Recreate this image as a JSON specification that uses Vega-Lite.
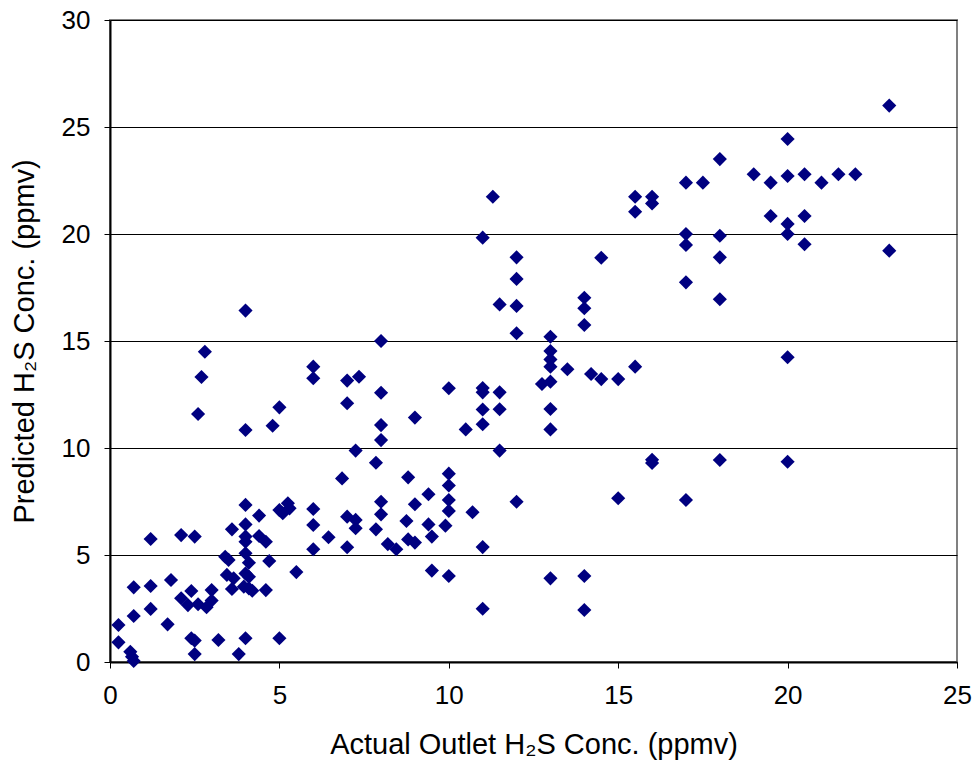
{
  "$schema": "https://vega.github.io/schema/vega-lite/v6.json",
  "autosize": "none",
  "padding": {"left": 110, "top": 20, "right": 18, "bottom": 108},
  "width": 847,
  "height": 642,
  "background": "white",
  "config": {
    "view": {"stroke": "#808080", "strokeWidth": 2},
    "font": "Liberation Sans"
  },
  "data": {
    "values": [
      {"actual": 0.25, "predicted": 1.73}, {"actual": 0.25, "predicted": 0.92}, {"actual": 0.6, "predicted": 0.48},
      {"actual": 0.65, "predicted": 0.25}, {"actual": 0.7, "predicted": 0.05}, {"actual": 0.7, "predicted": 3.49},
      {"actual": 0.7, "predicted": 2.15}, {"actual": 1.2, "predicted": 5.75}, {"actual": 1.2, "predicted": 3.55},
      {"actual": 1.2, "predicted": 2.48}, {"actual": 1.7, "predicted": 1.76}, {"actual": 1.8, "predicted": 3.83},
      {"actual": 2.1, "predicted": 5.93}, {"actual": 2.1, "predicted": 2.98}, {"actual": 2.3, "predicted": 2.66},
      {"actual": 2.4, "predicted": 3.32}, {"actual": 2.4, "predicted": 1.11}, {"actual": 2.5, "predicted": 1.0},
      {"actual": 2.5, "predicted": 0.37}, {"actual": 2.5, "predicted": 5.86}, {"actual": 2.6, "predicted": 2.7},
      {"actual": 2.6, "predicted": 11.59}, {"actual": 2.7, "predicted": 13.32}, {"actual": 2.8, "predicted": 14.5},
      {"actual": 2.85, "predicted": 2.56}, {"actual": 3.0, "predicted": 2.87}, {"actual": 3.0, "predicted": 3.36},
      {"actual": 3.2, "predicted": 1.03}, {"actual": 3.4, "predicted": 4.92}, {"actual": 3.5, "predicted": 4.77},
      {"actual": 3.45, "predicted": 4.07}, {"actual": 3.6, "predicted": 6.2}, {"actual": 3.6, "predicted": 3.41},
      {"actual": 3.65, "predicted": 3.91}, {"actual": 3.8, "predicted": 0.37}, {"actual": 4.0, "predicted": 7.34},
      {"actual": 4.0, "predicted": 6.43}, {"actual": 4.0, "predicted": 5.86}, {"actual": 4.0, "predicted": 5.62},
      {"actual": 4.0, "predicted": 5.08}, {"actual": 4.0, "predicted": 4.14}, {"actual": 3.95, "predicted": 3.52},
      {"actual": 4.0, "predicted": 1.11}, {"actual": 4.0, "predicted": 16.42}, {"actual": 4.0, "predicted": 10.84},
      {"actual": 4.1, "predicted": 4.64}, {"actual": 4.1, "predicted": 3.98}, {"actual": 4.1, "predicted": 3.44},
      {"actual": 4.2, "predicted": 3.33}, {"actual": 4.4, "predicted": 6.84}, {"actual": 4.4, "predicted": 5.89},
      {"actual": 4.6, "predicted": 5.62}, {"actual": 4.6, "predicted": 3.36}, {"actual": 4.7, "predicted": 4.72},
      {"actual": 4.8, "predicted": 11.04}, {"actual": 5.0, "predicted": 11.9}, {"actual": 5.0, "predicted": 1.11},
      {"actual": 5.0, "predicted": 7.1}, {"actual": 5.1, "predicted": 6.95}, {"actual": 5.25, "predicted": 7.42},
      {"actual": 5.3, "predicted": 7.18}, {"actual": 5.5, "predicted": 4.2},
      {"actual": 6.0, "predicted": 13.8}, {"actual": 6.0, "predicted": 13.26}, {"actual": 6.0, "predicted": 7.15},
      {"actual": 6.0, "predicted": 6.4}, {"actual": 6.0, "predicted": 5.27}, {"actual": 6.45, "predicted": 5.83},
      {"actual": 6.85, "predicted": 8.58}, {"actual": 7.0, "predicted": 13.15}, {"actual": 7.0, "predicted": 12.09},
      {"actual": 7.0, "predicted": 6.79}, {"actual": 7.0, "predicted": 5.36}, {"actual": 7.25, "predicted": 6.64},
      {"actual": 7.25, "predicted": 6.25}, {"actual": 7.25, "predicted": 9.88}, {"actual": 7.35, "predicted": 13.33},
      {"actual": 7.85, "predicted": 9.31}, {"actual": 7.85, "predicted": 6.2}, {"actual": 8.0, "predicted": 15.0},
      {"actual": 8.0, "predicted": 12.58}, {"actual": 8.0, "predicted": 11.07}, {"actual": 8.0, "predicted": 10.37},
      {"actual": 8.0, "predicted": 7.49}, {"actual": 8.0, "predicted": 6.9}, {"actual": 8.2, "predicted": 5.51},
      {"actual": 8.45, "predicted": 5.27}, {"actual": 8.75, "predicted": 6.59}, {"actual": 8.8, "predicted": 8.63},
      {"actual": 8.8, "predicted": 5.73}, {"actual": 9.0, "predicted": 11.42}, {"actual": 9.0, "predicted": 7.37},
      {"actual": 9.0, "predicted": 5.58}, {"actual": 9.4, "predicted": 7.84}, {"actual": 9.4, "predicted": 6.43},
      {"actual": 9.5, "predicted": 5.86}, {"actual": 9.5, "predicted": 4.27}, {"actual": 9.9, "predicted": 6.37},
      {"actual": 10.0, "predicted": 12.79}, {"actual": 10.0, "predicted": 8.8}, {"actual": 10.0, "predicted": 8.25},
      {"actual": 10.0, "predicted": 7.57}, {"actual": 10.0, "predicted": 7.06}, {"actual": 10.0, "predicted": 4.02},
      {"actual": 10.5, "predicted": 10.87}, {"actual": 10.7, "predicted": 7.0}, {"actual": 11.0, "predicted": 12.8},
      {"actual": 11.0, "predicted": 12.6}, {"actual": 11.0, "predicted": 11.8}, {"actual": 11.0, "predicted": 11.11},
      {"actual": 11.0, "predicted": 5.37}, {"actual": 11.0, "predicted": 19.83}, {"actual": 11.0, "predicted": 2.49},
      {"actual": 11.3, "predicted": 21.74}, {"actual": 11.5, "predicted": 16.71}, {"actual": 11.5, "predicted": 12.6},
      {"actual": 11.5, "predicted": 11.81}, {"actual": 11.5, "predicted": 9.88}, {"actual": 12.0, "predicted": 18.91},
      {"actual": 12.0, "predicted": 17.9}, {"actual": 12.0, "predicted": 16.64}, {"actual": 12.0, "predicted": 15.36},
      {"actual": 12.0, "predicted": 7.49}, {"actual": 12.75, "predicted": 12.99}, {"actual": 13.0, "predicted": 15.2},
      {"actual": 13.0, "predicted": 14.53}, {"actual": 13.0, "predicted": 14.14}, {"actual": 13.0, "predicted": 13.8},
      {"actual": 13.0, "predicted": 13.1}, {"actual": 13.0, "predicted": 11.82}, {"actual": 13.0, "predicted": 10.87},
      {"actual": 13.0, "predicted": 3.91}, {"actual": 13.5, "predicted": 13.68}, {"actual": 14.0, "predicted": 17.02},
      {"actual": 14.0, "predicted": 16.53}, {"actual": 14.0, "predicted": 15.75}, {"actual": 14.0, "predicted": 4.02},
      {"actual": 14.0, "predicted": 2.43}, {"actual": 14.2, "predicted": 13.46}, {"actual": 14.5, "predicted": 13.22},
      {"actual": 14.5, "predicted": 18.89}, {"actual": 15.0, "predicted": 13.22}, {"actual": 15.0, "predicted": 7.65},
      {"actual": 15.5, "predicted": 21.74}, {"actual": 15.5, "predicted": 21.04}, {"actual": 15.5, "predicted": 13.8},
      {"actual": 16.0, "predicted": 21.74}, {"actual": 16.0, "predicted": 21.43}, {"actual": 16.0, "predicted": 9.45},
      {"actual": 16.0, "predicted": 9.3},
      {"actual": 17.0, "predicted": 22.4}, {"actual": 17.0, "predicted": 20.0}, {"actual": 17.0, "predicted": 19.49},
      {"actual": 17.0, "predicted": 17.74}, {"actual": 17.0, "predicted": 7.57}, {"actual": 17.5, "predicted": 22.4},
      {"actual": 18.0, "predicted": 23.5}, {"actual": 18.0, "predicted": 19.92}, {"actual": 18.0, "predicted": 18.91},
      {"actual": 18.0, "predicted": 16.95}, {"actual": 18.0, "predicted": 9.44}, {"actual": 19.0, "predicted": 22.79},
      {"actual": 19.5, "predicted": 22.4}, {"actual": 19.5, "predicted": 20.84}, {"actual": 20.0, "predicted": 24.44},
      {"actual": 20.0, "predicted": 22.71}, {"actual": 20.0, "predicted": 20.47}, {"actual": 20.0, "predicted": 20.0},
      {"actual": 20.0, "predicted": 14.24}, {"actual": 20.0, "predicted": 9.36}, {"actual": 20.5, "predicted": 22.79},
      {"actual": 20.5, "predicted": 20.84}, {"actual": 20.5, "predicted": 19.52}, {"actual": 21.0, "predicted": 22.4},
      {"actual": 21.5, "predicted": 22.79}, {"actual": 22.0, "predicted": 22.79}, {"actual": 23.0, "predicted": 26.0},
      {"actual": 23.0, "predicted": 19.22}
    ]
  },
  "mark": {"type": "point", "shape": "diamond", "filled": true, "color": "#000080", "opacity": 1, "size": 200},
  "encoding": {
    "x": {
      "field": "actual", "type": "quantitative",
      "scale": {"domain": [0, 25], "nice": false, "zero": true},
      "axis": {
        "title": "Actual Outlet H₂S Conc. (ppmv)",
        "values": [0, 5, 10, 15, 20, 25],
        "grid": false,
        "domainColor": "#000", "domainWidth": 2,
        "tickColor": "#000", "tickSize": 6, "tickWidth": 1,
        "labelFont": "Liberation Sans", "labelFontSize": 26, "labelColor": "#000", "labelPadding": 14,
        "labelFlush": false,
        "titleFont": "Liberation Sans", "titleFontSize": 29, "titleFontWeight": "normal", "titleColor": "#000", "titlePadding": 22
      }
    },
    "y": {
      "field": "predicted", "type": "quantitative",
      "scale": {"domain": [0, 30], "nice": false},
      "axis": {
        "title": "Predicted H₂S Conc. (ppmv)",
        "values": [0, 5, 10, 15, 20, 25, 30],
        "grid": true, "gridColor": "#000", "gridWidth": 1, "gridOpacity": 1,
        "domainColor": "#000", "domainWidth": 2,
        "tickColor": "#000", "tickSize": 6, "tickWidth": 1,
        "labelFont": "Liberation Sans", "labelFontSize": 26, "labelColor": "#000", "labelPadding": 14,
        "labelFlush": false,
        "titleFont": "Liberation Sans", "titleFontSize": 29, "titleFontWeight": "normal", "titleColor": "#000", "titlePadding": 22
      }
    }
  }
}
